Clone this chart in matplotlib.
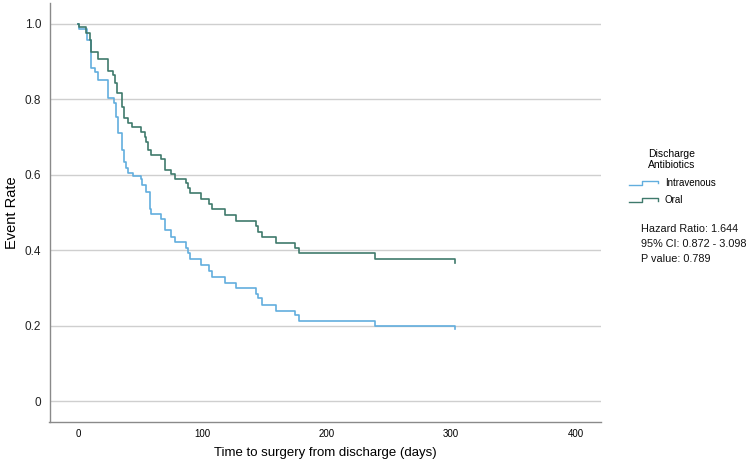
import numpy as np
import matplotlib
matplotlib.use("Agg")
import matplotlib.pyplot as plt
from matplotlib.legend_handler import HandlerBase
from matplotlib.lines import Line2D

plt.rcParams['font.family'] = ['Liberation Sans', 'DejaVu Sans']

# Kaplan-Meier style step data (days, event rate)
iv_days = [0, 1.0, 7, 10.5, 13.7, 16.4, 24, 28.8, 30.6, 32, 32.5, 35.5, 37.3, 38.7,
           40, 44, 50.8, 51.4, 54.8, 57.5, 58.9, 66.4, 70.2, 74.4, 78.2, 87.1,
           88.5, 89.8, 98.6, 105, 107.8, 118, 127.4, 142.7, 144.9, 147.6, 158.9,
           174.4, 177.7, 238.5, 303]
iv_rate = [1.0, 0.988, 0.958, 0.882, 0.874, 0.852, 0.805, 0.79, 0.754, 0.728, 0.712,
           0.666, 0.635, 0.617, 0.604, 0.597, 0.588, 0.573, 0.555, 0.51, 0.497,
           0.482, 0.453, 0.436, 0.423, 0.405, 0.392, 0.376, 0.361, 0.346, 0.33,
           0.314, 0.299, 0.285, 0.272, 0.254, 0.24, 0.228, 0.213, 0.20, 0.19]

oral_days = [0, 1.0, 6.5, 9.9, 10.5, 15.9, 24, 28, 29.8, 31.5, 35.5, 37.3, 40, 43.3,
             50.8, 53.5, 54.8, 56.2, 58.9, 66.9, 70.2, 74.4, 78.2, 87.1, 88.5,
             89.8, 98.6, 105, 107.8, 118, 127.4, 142.7, 144.9, 147.6, 158.9,
             174.4, 177.7, 238.5, 303]
oral_rate = [1.0, 0.993, 0.976, 0.957, 0.927, 0.906, 0.875, 0.866, 0.844, 0.816,
             0.78, 0.751, 0.738, 0.726, 0.713, 0.70, 0.688, 0.666, 0.652, 0.641,
             0.614, 0.601, 0.588, 0.577, 0.564, 0.551, 0.537, 0.522, 0.508, 0.493,
             0.478, 0.464, 0.449, 0.434, 0.42, 0.405, 0.392, 0.376, 0.365]

groups = ['Intravenous', 'Oral']
colors = ['#62aede', '#3f7a6c']
x_ticks = [0, 100, 200, 300, 400]
y_ticks = [0, 0.2, 0.4, 0.6, 0.8, 1.0]
y_tick_labels = ['0', '0.2', '0.4', '0.6', '0.8', '1.0']
stats_text = 'Hazard Ratio: 1.644\n95% CI: 0.872 - 3.098\nP value: 0.789'


# legend handle drawn as a little step
class StepHandler(HandlerBase):
    def create_artists(self, legend, orig_handle, xdescent, ydescent,
                       width, height, fontsize, trans):
        xs = np.array([0, 0.45, 0.45, 1.0, 1.0]) * width - xdescent
        ys = np.array([0.1, 0.1, 0.75, 0.75, 0.35]) * height - ydescent
        ln = Line2D(xs, ys, color=orig_handle.get_color(), lw=1.0)
        ln.set_transform(trans)
        return [ln]


fig = plt.figure(figsize=(7.49, 4.68), dpi=100)
ax = fig.add_axes([49.5 / 749, 1 - 422 / 468, (601 - 49.5) / 749, (422 - 3) / 468])

handles = []
for days, rate, lab, c in zip([iv_days, oral_days], [iv_rate, oral_rate], groups, colors):
    ln, = ax.step(days, rate, where='post', color=c, lw=1.2, label=lab)
    handles.append(ln)

ax.set_xlim(-22.9, 420.4)
ax.set_ylim(-0.0557, 1.0557)
ax.set_xticks(x_ticks)
ax.set_xticklabels([str(t) for t in x_ticks], fontsize=7,
                   family=['Liberation Sans Narrow', 'Liberation Sans'])
ax.set_yticks(y_ticks)
ax.set_yticklabels(y_tick_labels, fontsize=8.5, color='#222222')
ax.tick_params(length=0, pad=6)
ax.tick_params(axis='x', pad=5)
ax.yaxis.grid(True, color='#cfcfcf', lw=1.0)
ax.set_axisbelow(True)
for s in ['top', 'right']:
    ax.spines[s].set_visible(False)
for s in ['left', 'bottom']:
    ax.spines[s].set_color('#8a8a8a')
    ax.spines[s].set_linewidth(1.0)

ax.set_ylabel('Event Rate', fontsize=10.5, labelpad=4)
ax.set_xlabel('Time to surgery from discharge (days)', fontsize=9.5, labelpad=6)

leg = fig.legend(handles=handles, labels=groups, handler_map={Line2D: StepHandler()},
                 title='Discharge\nAntibiotics', loc='upper left',
                 bbox_to_anchor=(620 / 749, 1 - 140 / 468), frameon=False,
                 fontsize=7, title_fontsize=7.5, handlelength=3.0,
                 handletextpad=0.7, labelspacing=0.75)
leg.get_title().set_multialignment('center')

fig.text(641 / 749, 1 - 224 / 468, stats_text, fontsize=7.8, va='top', ha='left',
         linespacing=1.6, color='#111111')

fig.savefig('out.png', dpi=100)
